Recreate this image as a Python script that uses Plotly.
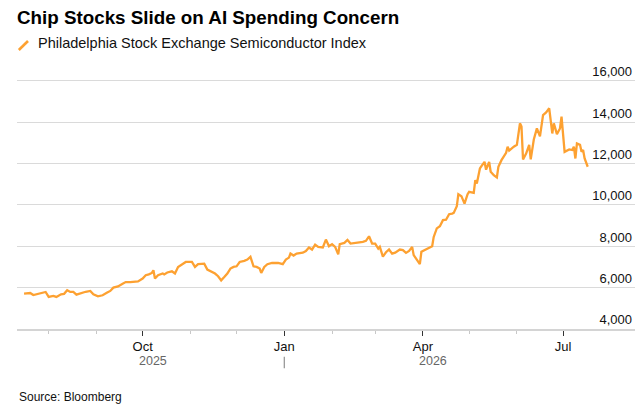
import plotly.graph_objects as go

# ---- data ----
dates = [
    "2025-07-16", "2025-07-20", "2025-07-22", "2025-07-27", "2025-07-30",
    "2025-08-01", "2025-08-04", "2025-08-06", "2025-08-09", "2025-08-11",
    "2025-08-13", "2025-08-15", "2025-08-17", "2025-08-19", "2025-08-22",
    "2025-08-25", "2025-08-28", "2025-08-30", "2025-09-02", "2025-09-05",
    "2025-09-08", "2025-09-10", "2025-09-12", "2025-09-15", "2025-09-18",
    "2025-09-20", "2025-09-23", "2025-09-28", "2025-10-01", "2025-10-03",
    "2025-10-05", "2025-10-07", "2025-10-08", "2025-10-09", "2025-10-11",
    "2025-10-14", "2025-10-15", "2025-10-17", "2025-10-20", "2025-10-22",
    "2025-10-24", "2025-10-27", "2025-10-29", "2025-11-02", "2025-11-04",
    "2025-11-06", "2025-11-10", "2025-11-12", "2025-11-15", "2025-11-17",
    "2025-11-19", "2025-11-21", "2025-11-23", "2025-11-25", "2025-11-27",
    "2025-11-29", "2025-12-01", "2025-12-03", "2025-12-06", "2025-12-08",
    "2025-12-10", "2025-12-12", "2025-12-14", "2025-12-16", "2025-12-17",
    "2025-12-19", "2025-12-21", "2025-12-24", "2025-12-28", "2025-12-31",
    "2026-01-02", "2026-01-04", "2026-01-05", "2026-01-07", "2026-01-09",
    "2026-01-13", "2026-01-15", "2026-01-17", "2026-01-19", "2026-01-21",
    "2026-01-23", "2026-01-26", "2026-01-28", "2026-01-30", "2026-02-01",
    "2026-02-03", "2026-02-05", "2026-02-06", "2026-02-09", "2026-02-11",
    "2026-02-13", "2026-02-17", "2026-02-21", "2026-02-23", "2026-02-25",
    "2026-02-27", "2026-03-01", "2026-03-03", "2026-03-04", "2026-03-06",
    "2026-03-08", "2026-03-10", "2026-03-12", "2026-03-14", "2026-03-17",
    "2026-03-19", "2026-03-21", "2026-03-23", "2026-03-25", "2026-03-26",
    "2026-03-28", "2026-03-30", "2026-03-31", "2026-04-03", "2026-04-05",
    "2026-04-07", "2026-04-08", "2026-04-10", "2026-04-12", "2026-04-13",
    "2026-04-14", "2026-04-16", "2026-04-18", "2026-04-20", "2026-04-21",
    "2026-04-23", "2026-04-24", "2026-04-26", "2026-04-28", "2026-04-30",
    "2026-05-01", "2026-05-04", "2026-05-05", "2026-05-06", "2026-05-08",
    "2026-05-09", "2026-05-11", "2026-05-12", "2026-05-14", "2026-05-15",
    "2026-05-17", "2026-05-19", "2026-05-20", "2026-05-22", "2026-05-25",
    "2026-05-26", "2026-05-27", "2026-05-30", "2026-06-01", "2026-06-03",
    "2026-06-04", "2026-06-05", "2026-06-07", "2026-06-09", "2026-06-10",
    "2026-06-12", "2026-06-14", "2026-06-16", "2026-06-18", "2026-06-20",
    "2026-06-22", "2026-06-24", "2026-06-25", "2026-06-27", "2026-06-29",
    "2026-06-30", "2026-07-02", "2026-07-05", "2026-07-07", "2026-07-08",
    "2026-07-09", "2026-07-10", "2026-07-12", "2026-07-13", "2026-07-14",
    "2026-07-15", "2026-07-17",
]
sox_index = [
    5710, 5740, 5640, 5720, 5790,
    5550, 5600, 5550, 5680, 5700,
    5870, 5790, 5790, 5660, 5740,
    5800, 5840, 5680, 5580, 5630,
    5760, 5840, 6000, 6060, 6190,
    6270, 6270, 6300, 6440, 6600,
    6640, 6710, 6840, 6440, 6600,
    6680, 6640, 6730, 6790, 6680,
    7000, 7130, 7240, 7240, 7000,
    7130, 7160, 6870, 6760, 6680,
    6550, 6350, 6510, 6680, 6920,
    7000, 7030, 7240, 7290, 7355,
    7490, 7030, 7000, 6920, 6710,
    7000, 7130, 7190, 7190, 7130,
    7355, 7450, 7645, 7550, 7645,
    7690, 7770, 7940, 7840, 8080,
    7970, 7940, 8320, 8000, 8100,
    7970, 7610, 8100, 8160, 8300,
    8130, 8160, 8210, 8260, 8480,
    8130, 8130, 7890, 7970, 7500,
    7710, 7840, 7645, 7690, 7840,
    7810, 7680, 7775, 7970, 7570,
    7355, 7130, 7730, 7840, 7890,
    8000, 8450, 8860, 8970, 9100,
    9260, 9280, 9550, 9580, 9610,
    9930, 10515, 10420, 10060, 10515,
    10630, 10580, 11190, 11030, 11760,
    11870, 12080, 11700, 12080, 11600,
    11430, 11320, 11840, 12160, 12515,
    12810, 12620, 12810, 12900, 13940,
    13780, 12195, 12480, 12900, 12195,
    13160, 13695, 13310, 14340, 14470,
    14665, 13450, 13940, 13420, 13690,
    14260, 12560, 12680, 12650, 12810,
    12240, 12970, 12900, 12560, 12650,
    12240, 11840,
]

series_name = "Philadelphia Stock Exchange Semiconductor Index"
title_text = "Chip Stocks Slide on AI Spending Concern"
source_text = "Source: Bloomberg"

x_tick_vals = ["2025-10-01", "2026-01-01", "2026-04-01", "2026-07-01"]
x_tick_text = ["Oct", "Jan", "Apr", "Jul"]
x_minor_vals = ["2025-08-01", "2025-09-01", "2025-11-01", "2025-12-01",
                "2026-02-01", "2026-03-01", "2026-05-01", "2026-06-01"]
year_labels = ["2025", "2026"]
year_label_at = ["2025-10-01", "2026-04-01"]
year_separator_at = ["2026-01-01"]
x_range = ["2025-07-11 10:00", "2026-08-16 17:00"]
y_tick_vals = [4000, 6000, 8000, 10000, 12000, 14000, 16000]
y_range = [4000, 17000]   # headroom so the top label (drawn above its gridline) fits

LINE_COLOR = "#FDA131"
FONT = "Liberation Sans, Arial, sans-serif"

fig = go.Figure()
fig.add_trace(go.Scatter(
    x=dates, y=sox_index, mode="lines", name=series_name,
    line=dict(color=LINE_COLOR, width=2.3), showlegend=False,
    hoverinfo="skip",
))

PLOT_TOP = 60.0  # px from top of figure

annotations = []
annotations.append(dict(
    text=series_name, xref="paper", yref="paper", x=0, y=1,
    xshift=19.3, yshift=PLOT_TOP - 43.0, xanchor="left", yanchor="middle",
    showarrow=False, font=dict(family=FONT, size=14.5, color="#111111"),
))
for lab, at in zip(year_labels, year_label_at):
    annotations.append(dict(
        text=lab, xref="x", yref="paper", x=at, y=0,
        xshift=-6, yshift=-32, xanchor="left", yanchor="middle",
        showarrow=False, font=dict(family=FONT, size=12.5, color="#666666"),
    ))
annotations.append(dict(
    text=source_text, xref="paper", yref="paper", x=0, y=0,
    xshift=0, yshift=-68, xanchor="left", yanchor="middle",
    showarrow=False, font=dict(family=FONT, size=12, color="#111111"),
))

shapes = []
shapes.append(dict(
    type="line", xref="paper", yref="paper",
    xsizemode="pixel", ysizemode="pixel", xanchor=0, yanchor=1,
    x0=1.8, x1=11.0, y0=PLOT_TOP - 50.0, y1=PLOT_TOP - 41.0,
    line=dict(color=LINE_COLOR, width=2.6),
))
for at in year_separator_at:
    shapes.append(dict(
        type="line", xref="x", yref="paper", x0=at, x1=at,
        ysizemode="pixel", yanchor=0, y0=-27.7, y1=-39.3,
        line=dict(color="#999999", width=1.3),
    ))

fig.update_layout(
    width=644, height=410,
    margin=dict(l=16.7, r=9.3, t=PLOT_TOP, b=81),
    paper_bgcolor="white", plot_bgcolor="white",
    title=dict(text="<b>" + title_text + "</b>", xref="container", yref="container",
               x=17 / 644, y=1 - 17 / 410, xanchor="left", yanchor="middle",
               font=dict(family=FONT, size=18.8, color="#000000")),
    annotations=annotations,
    shapes=shapes,
    showlegend=False,
    hovermode=False,
    font=dict(family=FONT),
)

fig.update_xaxes(
    type="date", range=x_range,
    tickmode="array", tickvals=x_tick_vals, ticktext=x_tick_text,
    ticks="outside", ticklen=5, tickwidth=1, tickcolor="#333333",
    tickfont=dict(family=FONT, size=13, color="#111111"),
    showgrid=False, zeroline=False,
    showline=True, linecolor="#d4d4d4", linewidth=1.5,
    minor=dict(tickmode="array", tickvals=x_minor_vals, ticks="outside",
               ticklen=3, tickwidth=1, tickcolor="#c8c8c8", showgrid=False),
)

fig.update_yaxes(
    range=y_range, tickmode="array", tickvals=y_tick_vals, side="right",
    ticklabelposition="inside top", tickformat=",",
    tickfont=dict(family=FONT, size=13, color="#111111"),
    showgrid=True, gridcolor="#dadada", gridwidth=1,
    zeroline=False, showline=False, ticks="",
)

fig.write_html("out.html", config={"displayModeBar": False, "staticPlot": True},
               post_script="document.body.style.margin='0';")
